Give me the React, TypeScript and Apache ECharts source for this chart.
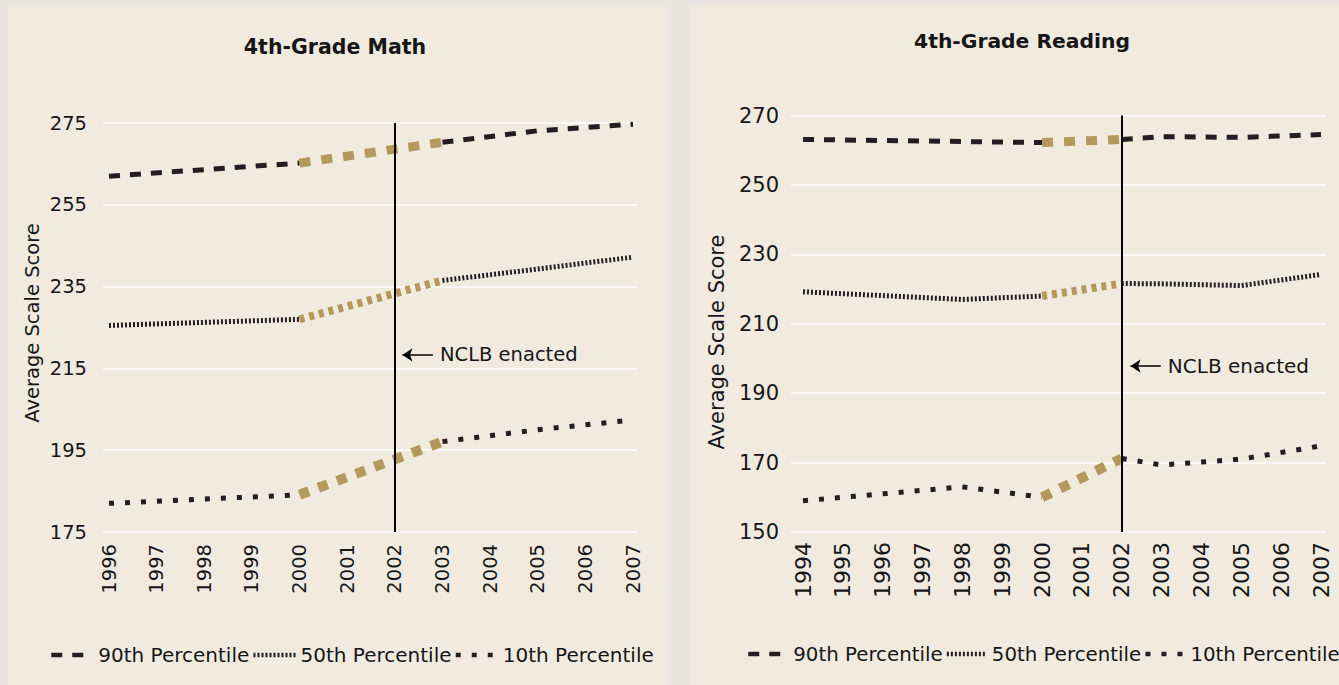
import React, { useEffect, useRef } from "react";
import * as echarts from "echarts";

// ---------- data ----------
const legendNames = ["90th Percentile", "50th Percentile", "10th Percentile"];

const mathYears = [1996, 2000, 2003, 2005, 2007];
const math90 = [262.0, 265.2, 270.3, 273.1, 274.7];
const math50 = [225.5, 227.0, 236.5, 239.3, 242.2];
const math10 = [182.0, 184.1, 197.1, 200.0, 202.4];
const mathGoldSpan = [2000, 2003];
const mathXRange = [1996, 2007];
const mathYTicks = [175, 195, 215, 235, 255, 275];

const readYears = [1994, 1998, 2000, 2002, 2003, 2005, 2007];
const read90 = [263.1, 262.5, 262.2, 263.1, 263.9, 263.7, 264.5];
const read50 = [219.2, 217.0, 218.0, 221.6, 221.5, 221.0, 224.2];
const read10 = [159.0, 163.0, 160.0, 171.2, 169.3, 171.0, 174.8];
const readGoldSpan = [2000, 2002];
const readXRange = [1994, 2007];
const readYTicks = [150, 170, 190, 210, 230, 250, 270];

const NCLB_YEAR = 2002;
const NCLB_TEXT = "NCLB enacted";
const mathNote = { from: 2002.16, to: 2002.8, value: 218.3 };
const readNote = { from: 2002.22, to: 2002.98, value: 197.8 };

// ---------- styles ----------
const DARK = "#231f20";
const GOLD = "#b39a5c";
const PANEL = "#f1ebdf";
const OUTER = "#e8e6df";
const TEXT = "#161616";
const FONT = "DejaVu Sans";

const lineStyles = [
  { w: 5, dark: [11, 10], gw: 9, gold: [11, 11] },
  { w: 5, dark: [2, 2], gw: 8, gold: [5, 5] },
  { w: 5, dark: [5, 11], gw: 10, gold: [10, 10] },
];

type Cfg = {
  title: string;
  titleX: number;
  titleY: number;
  titleSize: number;
  nameX: number;
  nameY: number;
  nameSize: number;
  years: number[];
  values: number[][];
  gold: number[];
  xRange: number[];
  yTicks: number[];
  note: { from: number; to: number; value: number };
  bgGrid: { left: number; right: number; top: number; bottom: number };
  dataGrid: { left: number; right: number; top: number; bottom: number };
  yLabelSize: number;
  yLabelMargin: number;
  xLabelSize: number;
  xLabelMargin: number;
  noteSize: number;
  legendLeft: number;
  legendTop: number;
  legendWidth: number;
  legendGap: number;
  legendSize: number;
};

function buildOption(c: Cfg) {
  const series: any[] = [];
  const base = {
    type: "line",
    xAxisIndex: 1,
    yAxisIndex: 1,
    symbol: "none",
    showSymbol: false,
    silent: true,
    animation: false,
  };
  c.values.forEach((vals, i) => {
    const name = legendNames[i];
    const pts = c.years.map((y, k) => [y, vals[k]]);
    const pre = pts.filter((p) => p[0] <= c.gold[0]);
    const mid = pts.filter((p) => p[0] >= c.gold[0] && p[0] <= c.gold[1]);
    const post = pts.filter((p) => p[0] >= c.gold[1]);
    const st = lineStyles[i];
    const darkStyle = { color: DARK, width: st.w, type: st.dark, cap: "butt" };
    series.push({ ...base, name, data: pre, z: 2, lineStyle: darkStyle, itemStyle: { color: DARK } });
    series.push({ ...base, name, data: post, z: 2, lineStyle: darkStyle, itemStyle: { color: DARK } });
    series.push({
      ...base,
      name: name + " (2000 to NCLB)",
      data: mid,
      z: 3,
      lineStyle: { color: GOLD, width: st.gw, type: st.gold, cap: "butt" },
      itemStyle: { color: GOLD },
    });
  });

  series[0].markLine = {
    silent: true,
    animation: false,
    symbol: ["none", "none"],
    label: { show: false },
    lineStyle: { color: "#000", width: 2, type: "solid" },
    data: [{ xAxis: NCLB_YEAR }],
    z: 5,
  };
  series[1].markLine = {
    silent: true,
    animation: false,
    symbol: ["arrow", "none"],
    symbolSize: 10,
    lineStyle: { color: "#000", width: 1.5, type: "solid" },
    label: {
      show: true,
      position: "end",
      formatter: NCLB_TEXT,
      fontSize: c.noteSize,
      fontFamily: FONT,
      color: TEXT,
      distance: 7,
    },
    data: [
      [
        { coord: [c.note.from, c.note.value] },
        { coord: [c.note.to, c.note.value] },
      ],
    ],
    z: 5,
  };

  const yMin = c.yTicks[0];
  const yMax = c.yTicks[c.yTicks.length - 1];
  const yInt = c.yTicks[1] - c.yTicks[0];

  return {
    animation: false,
    backgroundColor: PANEL,
    textStyle: { fontFamily: FONT },
    graphic: [
      {
        type: "text",
        x: c.titleX,
        y: c.titleY,
        style: {
          text: c.title,
          fontSize: c.titleSize,
          fontWeight: "bold",
          fontFamily: FONT,
          fill: TEXT,
          align: "center",
          verticalAlign: "middle",
        },
      },
      {
        type: "text",
        x: c.nameX,
        y: c.nameY,
        rotation: Math.PI / 2,
        style: {
          text: "Average Scale Score",
          fontSize: c.nameSize,
          fontFamily: FONT,
          fill: TEXT,
          align: "center",
          verticalAlign: "middle",
        },
      },
    ],
    legend: {
      data: legendNames,
      left: c.legendLeft,
      top: c.legendTop,
      width: 640,
      padding: 0,
      itemWidth: c.legendWidth,
      itemHeight: 14,
      itemGap: c.legendGap,
      selectedMode: false,
      itemStyle: {
        color: "rgba(0,0,0,0)",
        borderColor: "rgba(0,0,0,0)",
        borderWidth: 0,
      },
      lineStyle: { width: 4.5 },
      textStyle: { fontSize: c.legendSize, fontFamily: FONT, color: TEXT },
    },
    grid: [
      { ...c.bgGrid, containLabel: false },
      { ...c.dataGrid, containLabel: false },
    ],
    xAxis: [
      { type: "value", gridIndex: 0, min: 0, max: 1, show: false },
      {
        type: "value",
        gridIndex: 1,
        min: c.xRange[0],
        max: c.xRange[1],
        interval: 1,
        axisLine: { show: false },
        axisTick: { show: false },
        splitLine: { show: false },
        axisLabel: {
          rotate: 90,
          margin: c.xLabelMargin,
          fontSize: c.xLabelSize,
          fontFamily: FONT,
          color: TEXT,
          formatter: (v: number) => String(v),
        },
      },
    ],
    yAxis: [
      {
        type: "value",
        gridIndex: 0,
        min: yMin,
        max: yMax,
        interval: yInt,
        axisLine: { show: false },
        axisTick: { show: false },
        splitLine: { show: true, lineStyle: { color: "#ffffff", width: 1.6 } },
        axisLabel: {
          margin: c.yLabelMargin,
          fontSize: c.yLabelSize,
          fontFamily: FONT,
          color: TEXT,
        },
      },
      {
        type: "value",
        gridIndex: 1,
        min: yMin,
        max: yMax,
        interval: yInt,
        show: false,
        splitLine: { show: false },
      },
    ],
    series,
  };
}

const mathCfg: Cfg = {
  title: "4th-Grade Math",
  titleX: 327,
  titleY: 40,
  titleSize: 20.5,
  nameX: 24,
  nameY: 316,
  nameSize: 19.5,
  years: mathYears,
  values: [math90, math50, math10],
  gold: mathGoldSpan,
  xRange: mathXRange,
  yTicks: mathYTicks,
  note: mathNote,
  bgGrid: { left: 95, right: 31, top: 116, bottom: 153 },
  dataGrid: { left: 101, right: 35, top: 116, bottom: 153 },
  yLabelSize: 19.5,
  yLabelMargin: 16,
  xLabelSize: 19.5,
  xLabelMargin: 12,
  noteSize: 19.5,
  legendLeft: 41,
  legendTop: 638,
  legendWidth: 42,
  legendGap: 2,
  legendSize: 20,
};

const readCfg: Cfg = {
  title: "4th-Grade Reading",
  titleX: 332,
  titleY: 36,
  titleSize: 20.3,
  nameX: 27,
  nameY: 337,
  nameSize: 21,
  years: readYears,
  values: [read90, read50, read10],
  gold: readGoldSpan,
  xRange: readXRange,
  yTicks: readYTicks,
  note: readNote,
  bgGrid: { left: 101, right: 13, top: 110.5, bottom: 153 },
  dataGrid: { left: 113, right: 18, top: 110.5, bottom: 153 },
  yLabelSize: 21,
  yLabelMargin: 12,
  xLabelSize: 22,
  xLabelMargin: 10,
  noteSize: 20,
  legendLeft: 56,
  legendTop: 639,
  legendWidth: 40,
  legendGap: 2,
  legendSize: 19.8,
};

function Panel({ cfg, style }: { cfg: Cfg; style: React.CSSProperties }) {
  const ref = useRef<HTMLDivElement>(null);
  useEffect(() => {
    if (!ref.current) return;
    const chart = echarts.init(ref.current, null, { renderer: "svg" });
    chart.setOption(buildOption(cfg) as any);
    return () => chart.dispose();
  }, [cfg]);
  return <div ref={ref} style={style} />;
}

export default function App() {
  return (
    <div
      style={{
        position: "fixed",
        left: 0,
        top: 0,
        width: 1339,
        height: 685,
        background: OUTER,
        overflow: "hidden",
      }}
    >
      <Panel
        cfg={mathCfg}
        style={{ position: "absolute", left: 8, top: 7, width: 660, height: 678, background: PANEL }}
      />
      <Panel
        cfg={readCfg}
        style={{ position: "absolute", left: 690, top: 5, width: 649, height: 680, background: PANEL }}
      />
    </div>
  );
}
